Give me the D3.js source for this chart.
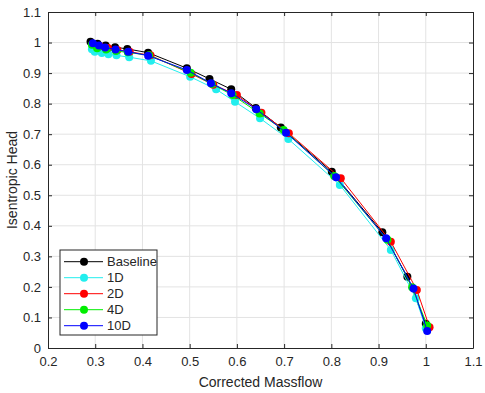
<!DOCTYPE html>
<html>
<head>
<meta charset="utf-8">
<script src="https://cdn.jsdelivr.net/npm/d3@7"></script>
<style>
  body { margin: 0; background: #fff; }
  text { font-family: Arial, "Liberation Sans", sans-serif; }
</style>
</head>
<body>
<div id="chart"></div>
<script>
// ---- data ----
var seriesNames = ["Baseline", "1D", "2D", "4D", "10D"];
var seriesColors = ["#000000", "#22eeee", "#ff0000", "#00ee00", "#0000ff"];

var baselineX = [0.290, 0.305, 0.322, 0.342, 0.368, 0.412, 0.494, 0.542, 0.588, 0.640, 0.693, 0.801, 0.908, 0.961, 1.000];
var baselineY = [1.003, 0.996, 0.990, 0.985, 0.979, 0.967, 0.916, 0.881, 0.847, 0.786, 0.722, 0.577, 0.379, 0.233, 0.079];

var d1X = [0.293, 0.299, 0.314, 0.328, 0.345, 0.372, 0.418, 0.501, 0.556, 0.596, 0.649, 0.709, 0.818, 0.926, 0.979, 1.000];
var d1Y = [0.978, 0.970, 0.966, 0.962, 0.958, 0.952, 0.940, 0.888, 0.847, 0.806, 0.752, 0.684, 0.534, 0.321, 0.163, 0.065];

var d2X = [0.295, 0.310, 0.327, 0.347, 0.373, 0.417, 0.504, 0.550, 0.600, 0.652, 0.710, 0.820, 0.926, 0.981, 1.008];
var d2Y = [0.995, 0.988, 0.982, 0.976, 0.970, 0.958, 0.897, 0.862, 0.828, 0.770, 0.703, 0.556, 0.348, 0.190, 0.068];

var d4X = [0.293, 0.304, 0.323, 0.344, 0.369, 0.414, 0.502, 0.547, 0.591, 0.648, 0.699, 0.806, 0.919, 0.971, 1.003];
var d4Y = [0.993, 0.981, 0.977, 0.972, 0.968, 0.958, 0.901, 0.864, 0.828, 0.768, 0.714, 0.563, 0.354, 0.199, 0.074];

var d10X = [0.295, 0.308, 0.321, 0.343, 0.370, 0.412, 0.494, 0.545, 0.588, 0.641, 0.704, 0.810, 0.916, 0.974, 1.003];
var d10Y = [0.998, 0.990, 0.984, 0.977, 0.970, 0.957, 0.910, 0.867, 0.834, 0.782, 0.705, 0.559, 0.359, 0.195, 0.056];

var xTicks = [0.2, 0.3, 0.4, 0.5, 0.6, 0.7, 0.8, 0.9, 1, 1.1];
var yTicks = [0, 0.1, 0.2, 0.3, 0.4, 0.5, 0.6, 0.7, 0.8, 0.9, 1, 1.1];

var allX = [baselineX, d1X, d2X, d4X, d10X];
var allY = [baselineY, d1Y, d2Y, d4Y, d10Y];

// ---- layout ----
var svgWidth = 485, svgHeight = 393;
var margin = { top: 12, right: 12, bottom: 45, left: 48 };
var width = svgWidth - margin.left - margin.right;
var height = svgHeight - margin.top - margin.bottom;

var svg = d3.select("#chart").append("svg").attr("width", svgWidth).attr("height", svgHeight);
var g = svg.append("g").attr("transform", `translate(${margin.left}, ${margin.top})`);

var x = d3.scaleLinear().domain([0.2, 1.1]).range([0, width]);
var y = d3.scaleLinear().domain([0, 1.1]).range([height, 0]);

// grid
g.append("g").selectAll("line.gx").data(xTicks.slice(1, -1)).enter().append("line")
  .attr("x1", d => x(d)).attr("x2", d => x(d)).attr("y1", 0).attr("y2", height)
  .attr("stroke", "#e3e3e3").attr("stroke-width", 1);
g.append("g").selectAll("line.gy").data(yTicks.slice(1, -1)).enter().append("line")
  .attr("y1", d => y(d)).attr("y2", d => y(d)).attr("x1", 0).attr("x2", width)
  .attr("stroke", "#e3e3e3").attr("stroke-width", 1);

// axes (ticks inward, box all round)
var fmt = d => String(d);
var xAxis = g.append("g").attr("transform", `translate(0, ${height})`)
  .call(d3.axisBottom(x).tickValues(xTicks).tickFormat(fmt).tickSizeInner(-4).tickSizeOuter(0).tickPadding(9));
var xTop = g.append("g")
  .call(d3.axisTop(x).tickValues(xTicks).tickFormat("").tickSizeInner(-4).tickSizeOuter(0));
var yAxis = g.append("g")
  .call(d3.axisLeft(y).tickValues(yTicks).tickFormat(fmt).tickSizeInner(-4).tickSizeOuter(0).tickPadding(7));
var yRight = g.append("g").attr("transform", `translate(${width}, 0)`)
  .call(d3.axisRight(y).tickValues(yTicks).tickFormat("").tickSizeInner(-4).tickSizeOuter(0));

[xAxis, xTop, yAxis, yRight].forEach(a => {
  a.select(".domain").attr("stroke", "#262626");
  a.selectAll(".tick line").attr("stroke", "#262626");
  a.selectAll(".tick text").attr("fill", "#262626").style("font-size", "13px");
});

// series
var line = d3.line().x(d => x(d[0])).y(d => y(d[1]));
seriesNames.forEach((name, i) => {
  var pts = allX[i].map((v, j) => [v, allY[i][j]]);
  var sg = g.append("g");
  sg.append("path").datum(pts).attr("d", line)
    .attr("fill", "none").attr("stroke", seriesColors[i]).attr("stroke-width", 1);
  sg.selectAll("circle").data(pts).enter().append("circle")
    .attr("cx", d => x(d[0])).attr("cy", d => y(d[1])).attr("r", 4)
    .attr("fill", seriesColors[i]);
});

// axis labels
svg.append("text").attr("x", margin.left + width / 2).attr("y", 387)
  .attr("text-anchor", "middle").style("font-size", "14px").attr("fill", "#262626")
  .text("Corrected Massflow");
svg.append("text").attr("transform", `translate(17, ${margin.top + height / 2}) rotate(-90)`)
  .attr("text-anchor", "middle").style("font-size", "14px").attr("fill", "#262626")
  .text("Isentropic Head");

// legend
var legend = g.append("g").attr("transform", "translate(12, 238)");
legend.append("rect").attr("width", 97).attr("height", 85)
  .attr("fill", "#fff").attr("stroke", "#262626").attr("stroke-width", 1);
seriesNames.forEach((name, i) => {
  var ly = 11.7 + i * 16;
  legend.append("line").attr("x1", 4).attr("x2", 43).attr("y1", ly).attr("y2", ly)
    .attr("stroke", seriesColors[i]).attr("stroke-width", 1);
  legend.append("circle").attr("cx", 24).attr("cy", ly).attr("r", 4).attr("fill", seriesColors[i]);
  legend.append("text").attr("x", 47).attr("y", ly + 4.5).style("font-size", "13px")
    .attr("fill", "#262626").text(name);
});
</script>
</body>
</html>
